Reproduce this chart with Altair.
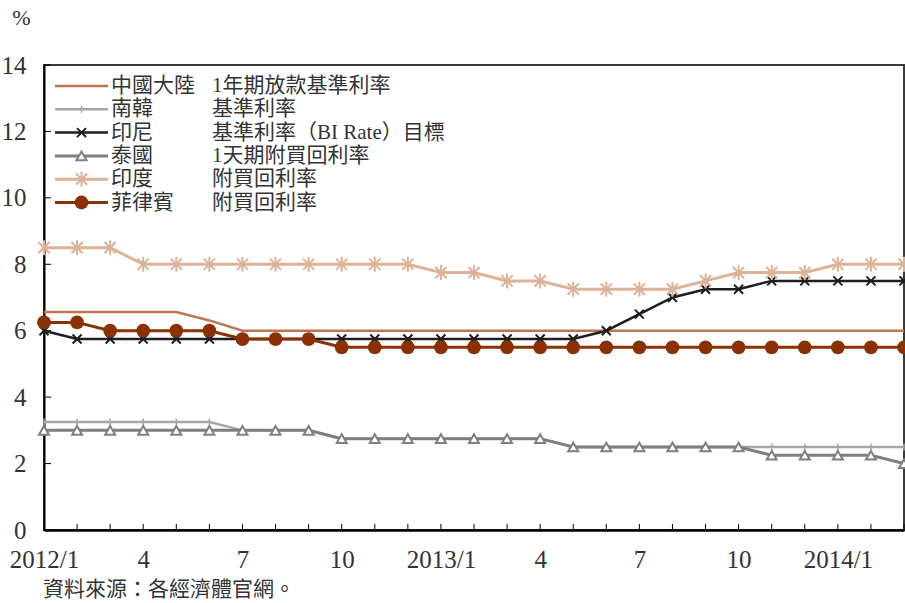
import altair as alt
import pandas as pd

# Monthly observations, 2012/1 - 2014/3
months = [
    "2012/1", "2012/2", "2012/3", "2012/4", "2012/5", "2012/6",
    "2012/7", "2012/8", "2012/9", "2012/10", "2012/11", "2012/12",
    "2013/1", "2013/2", "2013/3", "2013/4", "2013/5", "2013/6",
    "2013/7", "2013/8", "2013/9", "2013/10", "2013/11", "2013/12",
    "2014/1", "2014/2", "2014/3",
]

china = [6.56, 6.56, 6.56, 6.56, 6.56, 6.31, 6.00, 6.00, 6.00, 6.00, 6.00, 6.00,
         6.00, 6.00, 6.00, 6.00, 6.00, 6.00, 6.00, 6.00, 6.00, 6.00, 6.00, 6.00,
         6.00, 6.00, 6.00]
korea = [3.25, 3.25, 3.25, 3.25, 3.25, 3.25, 3.00, 3.00, 3.00, 2.75, 2.75, 2.75,
         2.75, 2.75, 2.75, 2.75, 2.50, 2.50, 2.50, 2.50, 2.50, 2.50, 2.50, 2.50,
         2.50, 2.50, 2.50]
indonesia = [6.00, 5.75, 5.75, 5.75, 5.75, 5.75, 5.75, 5.75, 5.75, 5.75, 5.75, 5.75,
             5.75, 5.75, 5.75, 5.75, 5.75, 6.00, 6.50, 7.00, 7.25, 7.25, 7.50, 7.50,
             7.50, 7.50, 7.50]
thailand = [3.00, 3.00, 3.00, 3.00, 3.00, 3.00, 3.00, 3.00, 3.00, 2.75, 2.75, 2.75,
            2.75, 2.75, 2.75, 2.75, 2.50, 2.50, 2.50, 2.50, 2.50, 2.50, 2.25, 2.25,
            2.25, 2.25, 2.00]
india = [8.50, 8.50, 8.50, 8.00, 8.00, 8.00, 8.00, 8.00, 8.00, 8.00, 8.00, 8.00,
         7.75, 7.75, 7.50, 7.50, 7.25, 7.25, 7.25, 7.25, 7.50, 7.75, 7.75, 7.75,
         8.00, 8.00, 8.00]
philippines = [6.25, 6.25, 6.00, 6.00, 6.00, 6.00, 5.75, 5.75, 5.75, 5.50, 5.50, 5.50,
               5.50, 5.50, 5.50, 5.50, 5.50, 5.50, 5.50, 5.50, 5.50, 5.50, 5.50, 5.50,
               5.50, 5.50, 5.50]

countries = ["中國大陸", "南韓", "印尼", "泰國", "印度", "菲律賓"]
rate_names = ["1年期放款基準利率", "基準利率", "基準利率（BI Rate）目標",
              "1天期附買回利率", "附買回利率", "附買回利率"]
values = [china, korea, indonesia, thailand, india, philippines]
y_ticks = [0, 2, 4, 6, 8, 10, 12, 14]
source_note = "資料來源：各經濟體官網。"

FONT = "Liberation Serif, Noto Sans CJK TC"
TEXT = "#333333"
W, H = 860, 465

# Line/marker styling for each series
CROSS = "M-1,-1L1,1M-1,1L1,-1"
TICK = "M0,-1L0,1"
STAR = "M0,-1L0,1M-0.75,-0.75L0.75,0.75M-0.75,0.75L0.75,-0.75"
styles = [
    dict(color="#BF7650", width=2.5, marker=None),
    dict(color="#A6A6A6", width=2.5, marker=dict(shape=TICK, size=49, filled=False, stroke="#A6A6A6", strokeWidth=1.5)),
    dict(color="#1E1E1E", width=2.5, marker=dict(shape=CROSS, size=81, filled=False, stroke="#1E1E1E", strokeWidth=2)),
    dict(color="#7F7F7F", width=3, marker=dict(shape="triangle-up", size=100, filled=True, fill="white", stroke="#7F7F7F", strokeWidth=2)),
    dict(color="#DDB296", width=3, marker=dict(shape=STAR, size=225, filled=False, stroke="#DDB296", strokeWidth=2)),
    dict(color="#8B3000", width=3, marker=dict(shape="circle", size=190, filled=True, fill="#8B3000", stroke="#8B3000", strokeWidth=0)),
]

rows = [
    {"month": m, "series": name, "rate": v}
    for name, vals in zip(countries, values)
    for m, v in zip(months, vals)
]
df = pd.DataFrame(rows)

# Label only Jan / Apr / Jul / Oct; January keeps the year
label_expr = (
    "indexof(['1','4','7','10'], split(datum.value, '/')[1]) < 0 ? '' : "
    "(split(datum.value, '/')[1] == '1' ? datum.value : split(datum.value, '/')[1])"
)

x_enc = alt.X(
    "month:O",
    sort=months,
    scale=alt.Scale(type="point", padding=0),
    axis=alt.Axis(
        title=None,
        labelExpr=label_expr,
        labelAngle=0,
        labelAlign="center",
        labelOverlap=False,
        labelBound=False,
        labelFlush=False,
        labelFont=FONT,
        labelFontSize=25,
        labelColor=TEXT,
        labelPadding=17,
        labelBaseline="top",
        ticks=False,
        domainColor="#000000",
        domainWidth=2.5,
        grid=False,
    ),
)
y_enc = alt.Y(
    "rate:Q",
    scale=alt.Scale(domain=[0, 14], nice=False, zero=True),
    axis=alt.Axis(
        title="%",
        titleAngle=0,
        titleX=-23,
        titleY=-48,
        titleAlign="center",
        titleBaseline="middle",
        titleFont=FONT,
        titleFontSize=22,
        titleFontWeight="normal",
        titleColor=TEXT,
        values=y_ticks,
        labelFont=FONT,
        labelFontSize=25,
        labelColor=TEXT,
        labelPadding=18,
        ticks=False,
        domainColor="#000000",
        domainWidth=2,
        grid=False,
    ),
)

layers = []

# Inward tick marks on both axes
layers.append(
    alt.Chart(pd.DataFrame({"month": months}))
    .mark_rule(color="#000000", strokeWidth=1)
    .encode(x=x_enc, y=alt.value(H - 6), y2=alt.value(H))
)
layers.append(
    alt.Chart(pd.DataFrame({"rate": y_ticks}))
    .mark_rule(color="#000000", strokeWidth=1)
    .encode(y=y_enc, x=alt.value(0), x2=alt.value(7))
)

# Series lines and markers
for name, st in zip(countries, styles):
    base = alt.Chart(df).transform_filter(alt.datum.series == name)
    layers.append(
        base.mark_line(color=st["color"], strokeWidth=st["width"]).encode(x=x_enc, y=y_enc)
    )
    if st["marker"]:
        layers.append(
            base.mark_point(opacity=1, **st["marker"]).encode(x=x_enc, y=y_enc)
        )

# Legend block in the upper-left of the plot
one = pd.DataFrame({"k": [0]})
for i, (name, rname, st) in enumerate(zip(countries, rate_names, styles)):
    ly = 21 + i * 23.3
    layers.append(
        alt.Chart(one).mark_rule(color=st["color"], strokeWidth=st["width"])
        .encode(x=alt.value(11), x2=alt.value(64), y=alt.value(ly))
    )
    if st["marker"]:
        layers.append(
            alt.Chart(one).mark_point(opacity=1, **st["marker"])
            .encode(x=alt.value(37.5), y=alt.value(ly))
        )
    layers.append(
        alt.Chart(one).mark_text(font=FONT, fontSize=21, color=TEXT, align="left", baseline="middle")
        .encode(x=alt.value(67), y=alt.value(ly), text=alt.value(name))
    )
    layers.append(
        alt.Chart(one).mark_text(font=FONT, fontSize=21, color=TEXT, align="left", baseline="middle")
        .encode(x=alt.value(168), y=alt.value(ly), text=alt.value(rname))
    )

# Source note under the axis
layers.append(
    alt.Chart(one).mark_text(font=FONT, fontSize=21, color=TEXT, align="left", baseline="middle")
    .encode(x=alt.value(-1), y=alt.value(525), text=alt.value(source_note))
)

chart = (
    alt.layer(*layers)
    .properties(
        width=W,
        height=H,
        autosize=alt.AutoSizeParams(type="none"),
        padding={"left": 44, "top": 65, "right": 1, "bottom": 73},
        background="white",
    )
    .configure_view(stroke="#3A3A3A", strokeWidth=2)
)

chart.save("out.html", embed_options={"renderer": "svg", "actions": False})
